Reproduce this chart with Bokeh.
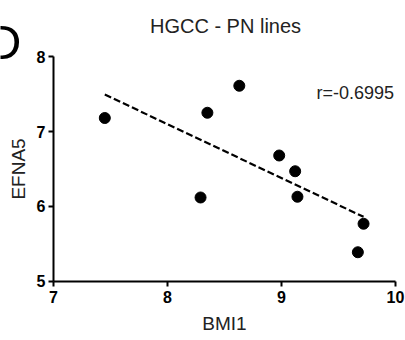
import numpy as np
from bokeh.plotting import figure
from bokeh.models import Range1d, Label, FixedTicker
from bokeh.embed import file_html
from bokeh.resources import INLINE

bmi1 = [7.45, 8.29, 8.35, 8.63, 8.98, 9.12, 9.14, 9.72, 9.67]
efna5 = [7.18, 6.12, 7.25, 7.61, 6.68, 6.47, 6.13, 5.77, 5.39]
x_ticks = [7, 8, 9, 10]
y_ticks = [5, 6, 7, 8]
title_text = "HGCC - PN lines"
panel_text = "D"
r_text = "r=-0.6995"

FONT = "Liberation Sans"

# the frame fills the whole canvas so that the panel letter and the title can sit in it;
# both axes are pinned at x=7 / y=5 and bounded to 7-10 and 5-8
p = figure(width=405, height=340, output_backend="svg", toolbar_location=None,
           x_range=Range1d(6.535, 10.088), y_range=Range1d(4.213, 8.747),
           min_border_left=0, min_border_right=0, min_border_top=0, min_border_bottom=0)
p.outline_line_color = None
p.xgrid.visible = False
p.ygrid.visible = False
p.background_fill_color = "white"
p.border_fill_color = "white"

for ax, ticks, label in ((p.xaxis[0], x_ticks, "BMI1"), (p.yaxis[0], y_ticks, "EFNA5")):
    ax.ticker = FixedTicker(ticks=ticks)
    ax.axis_label = label
    ax.axis_label_text_font = FONT
    ax.axis_label_text_font_style = "normal"
    ax.axis_label_text_font_size = "19px"
    ax.axis_label_text_color = "#222222"
    ax.major_label_text_font = FONT
    ax.major_label_text_font_style = "bold"
    ax.major_label_text_font_size = "16px"
    ax.major_label_text_color = "black"
    ax.axis_line_width = 2
    ax.axis_line_color = "black"
    ax.major_tick_line_width = 2
    ax.major_tick_line_color = "black"
    ax.major_tick_out = 5
    ax.major_tick_in = 0
    ax.minor_tick_line_color = None

p.xaxis.bounds = (7, 10)
p.yaxis.bounds = (5, 8)
p.yaxis.fixed_location = 7
p.xaxis.fixed_location = 5
p.xaxis.major_label_standoff = 5
p.xaxis.axis_label_standoff = 6
p.yaxis.major_label_standoff = 3
p.yaxis.axis_label_standoff = 5

# regression line
slope, intercept = np.polyfit(bmi1, efna5, 1)
xs = np.array([min(bmi1), max(bmi1)])
p.line(xs, slope * xs + intercept, line_color="black", line_width=2.2, line_dash="7 3")

p.scatter(bmi1, efna5, size=11, fill_color="black", line_color="black")

p.add_layout(Label(x=8.509, y=8.413, text=title_text, text_font=FONT, text_font_size="20px",
                   text_align="center", text_baseline="alphabetic", text_color="#222222"))
p.add_layout(Label(x=6.719, y=8.187, text=panel_text, text_font=FONT, text_font_size="49px",
                   text_align="right", text_baseline="alphabetic", text_color="black"))
p.add_layout(Label(x=9.307, y=7.507, text=r_text, text_font=FONT, text_font_size="18px",
                   text_align="left", text_baseline="alphabetic", text_color="#222222"))

open("out.html", "w").write(file_html(p, INLINE))
